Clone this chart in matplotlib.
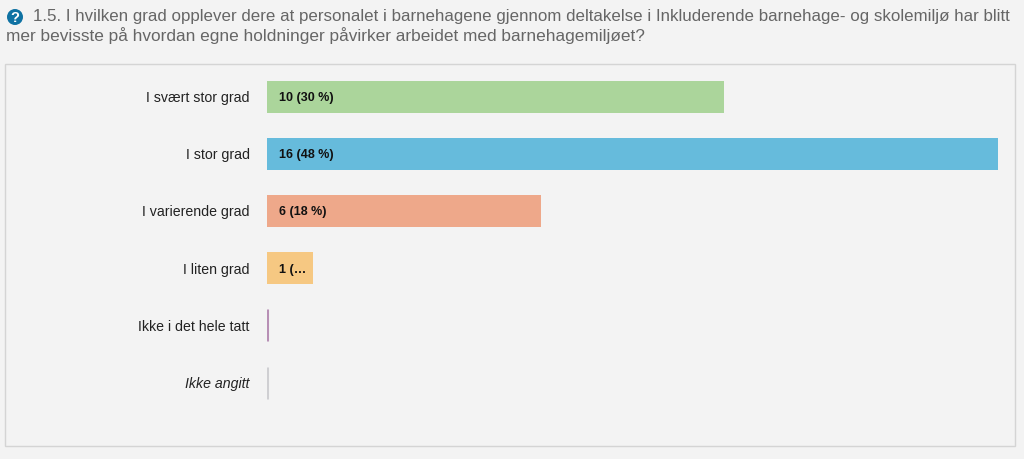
import matplotlib
matplotlib.use("Agg")
import matplotlib.pyplot as plt
from matplotlib.patches import Rectangle, Circle

# Data
kategorier = ["I svært stor grad", "I stor grad", "I varierende grad", "I liten grad",
              "Ikke i det hele tatt", "Ikke angitt"]
antall = [10, 16, 6, 1, 0, 0]
etiketter = ["10 (30 %)", "16 (48 %)", "6 (18 %)", "1 (…", "", ""]
farger = ["#abd59b", "#66bbdc", "#eea88a", "#f6c882", "#b78fb5", "#cfcfd2"]
tittel = ["1.5. I hvilken grad opplever dere at personalet i barnehagene gjennom deltakelse i Inkluderende barnehage- og skolemiljø har blitt",
          "mer bevisste på hvordan egne holdninger påvirker arbeidet med barnehagemiljøet?"]

W, H = 1024, 459
plt.rcParams['font.family'] = ['Liberation Sans', 'DejaVu Sans']

fig = plt.figure(figsize=(W / 100, H / 100), dpi=100, facecolor="#f3f3f3")

# Panel round the chart, behind the axes
fig.add_artist(Rectangle((5 / W, 1 - 445.5 / H), 1010 / W, 381.5 / H, transform=fig.transFigure,
                         facecolor="#f3f3f3", edgecolor="#d4d4d4", linewidth=1.0, zorder=-1))

# Question icon
fig.add_artist(Circle((15, H - 17), 8, transform=None, facecolor="#0f72a3", edgecolor="none"))
fig.text(15 / W, 1 - 17.5 / H, "?", color="white", fontsize=10.5, fontweight="bold", ha="center", va="center")

# Question text
fig.text(33 / W, 1 - 17 / H, tittel[0], color="#666666", fontsize=12.15, ha="left", va="center")
fig.text(6 / W, 1 - 36 / H, tittel[1], color="#666666", fontsize=12.4, ha="left", va="center")

# Axes runs from x=267 to x=998, with rows 57.2 px apart
radhoyde = 57.2
topp = 96.5 - radhoyde / 2
ax = fig.add_axes([267 / W, 1 - (topp + 6 * radhoyde) / H, 731 / W, 6 * radhoyde / H])
ax.patch.set_alpha(0)
ax.set_xlim(0, 16)
ax.set_ylim(5.5, -0.5)
for s in ax.spines.values():
    s.set_visible(False)
ax.set_xticks([])

y = list(range(len(kategorier)))
ax.barh(y, antall, height=32 / radhoyde, color=farger)
# Empty categories still show as a thin line
for i, verdi in enumerate(antall):
    if verdi == 0:
        ax.vlines(verdi, i - 16 / radhoyde, i + 16 / radhoyde, color=farger[i], linewidth=2.2)
    ax.annotate(etiketter[i], (0, i), xytext=(12, -1.5), textcoords="offset pixels",
                fontsize=9, fontweight="bold", color="#111111", ha="left", va="center")

ax.set_yticks(y, kategorier)
ax.tick_params(axis="y", length=0, pad=12.5, labelsize=10.2, labelcolor="#222222")
ax.get_yticklabels()[-1].set_fontstyle("italic")

fig.savefig("out.png", dpi=100, facecolor=fig.get_facecolor())
